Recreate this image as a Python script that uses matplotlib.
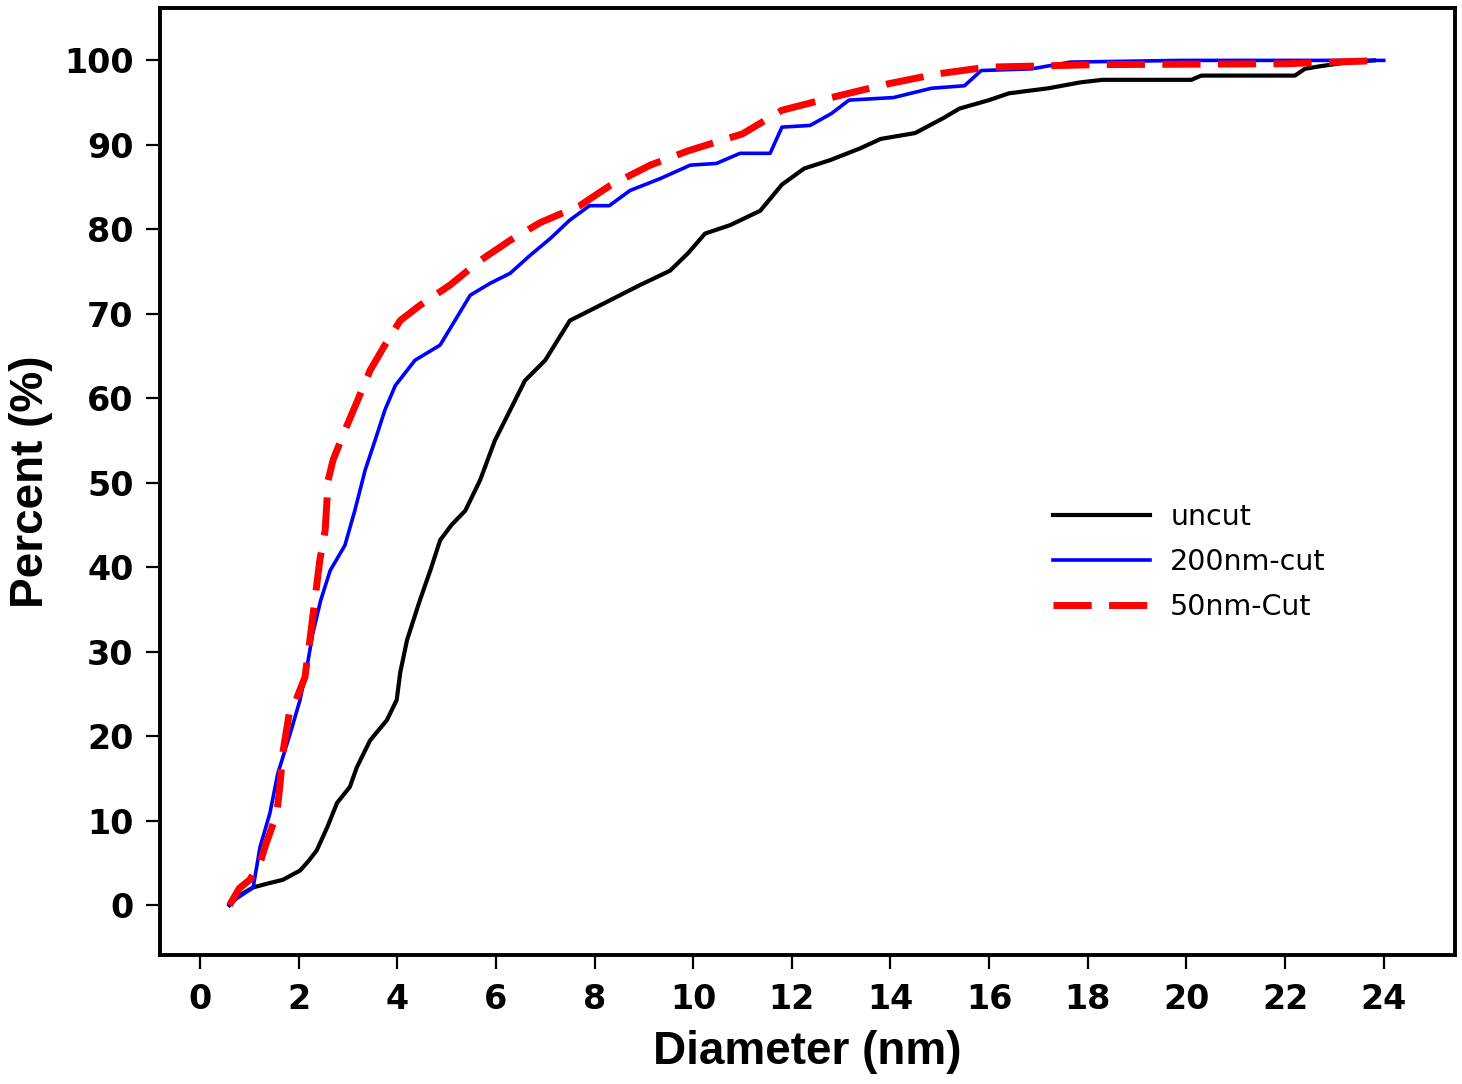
import matplotlib
matplotlib.use("Agg")
import matplotlib.pyplot as plt

# cumulative size distributions
uncut_d = [0.6, 0.75, 1.08, 1.4, 1.68, 2.03, 2.2, 2.37, 2.58, 2.78,
           3.04, 3.18, 3.45, 3.79, 3.99, 4.06, 4.2, 4.46, 4.67, 4.87,
           5.1, 5.38, 5.68, 5.98, 6.29, 6.59, 7.0, 7.5, 8.11, 8.92,
           9.53, 9.9, 10.24, 10.75, 11.36, 11.8, 12.25, 12.78, 13.39, 13.8,
           14.5, 15.05, 15.4, 16.0, 16.4, 17.2, 17.85, 18.3, 20.1, 20.3,
           22.2, 22.4, 22.7, 23.3, 23.8]
uncut_p = [0, 1.0, 2.1, 2.6, 3.0, 4.1, 5.2, 6.5, 9.2, 12.1,
           14.0, 16.3, 19.5, 21.9, 24.3, 27.5, 31.4, 36.1, 39.6, 43.2,
           45.0, 46.7, 50.3, 55.0, 58.6, 62.1, 64.5, 69.2, 71.0, 73.4,
           75.1, 77.2, 79.5, 80.5, 82.2, 85.3, 87.2, 88.2, 89.6, 90.7,
           91.4, 93.1, 94.3, 95.3, 96.1, 96.7, 97.4, 97.7, 97.7, 98.2,
           98.2, 99.0, 99.3, 99.8, 100]

cut200_d = [0.6, 0.75, 1.08, 1.22, 1.42, 1.58, 1.83, 2.03, 2.17, 2.29,
            2.45, 2.64, 2.94, 3.14, 3.35, 3.55, 3.75, 3.96, 4.36, 4.87,
            5.17, 5.48, 5.88, 6.29, 6.69, 7.1, 7.5, 7.9, 8.3, 8.72,
            9.33, 9.94, 10.47, 10.95, 11.56, 11.8, 12.37, 12.8, 13.16, 14.06,
            14.83, 15.5, 15.84, 16.86, 17.65, 19.9, 24.0]
cut200_p = [0, 0.8, 2.1, 6.9, 10.9, 15.6, 20.3, 24.3, 28.2, 32.2,
            36.1, 39.6, 42.6, 46.7, 51.5, 55.0, 58.6, 61.5, 64.5, 66.3,
            69.2, 72.2, 73.6, 74.8, 76.9, 78.9, 81.1, 82.8, 82.8, 84.6,
            86.0, 87.6, 87.8, 89.0, 89.0, 92.1, 92.3, 93.7, 95.3, 95.6,
            96.7, 97.0, 98.8, 99.0, 99.8, 100, 100]

cut50_d = [0.6, 0.8, 1.01, 1.22, 1.32, 1.56, 1.62, 1.68, 1.83, 1.95,
           2.13, 2.23, 2.33, 2.43, 2.54, 2.6, 2.7, 2.94, 3.2, 3.45,
           3.75, 4.06, 4.46, 5.07, 5.68, 6.29, 6.9, 7.7, 8.32, 9.13,
           9.9, 11.0, 11.8, 12.8, 13.93, 14.95, 15.96, 18.2, 22.0, 24.0]
cut50_p = [0, 2.0, 3.0, 5.0, 6.9, 10.9, 14.0, 18.0, 23.4, 24.3,
           27.0, 31.4, 36.1, 40.8, 44.4, 50.3, 52.7, 56.2, 59.8, 63.3,
           66.3, 69.2, 71.0, 73.4, 76.3, 78.7, 80.8, 82.8, 85.2, 87.6,
           89.3, 91.3, 94.1, 95.6, 97.2, 98.4, 99.2, 99.5, 99.6, 100]

x_ticks = list(range(0, 25, 2))
y_ticks = list(range(0, 101, 10))

fig = plt.figure(figsize=(14.62, 10.84), dpi=100)
ax = fig.add_axes([0.1094, 0.119, 0.886, 0.8736])

ax.plot(uncut_d, uncut_p, color="black", lw=3.0, label="uncut")
ax.plot(cut200_d, cut200_p, color="#0000ff", lw=2.6, label="200nm-cut")
ax.plot(cut50_d, cut50_p, color="#ff0000", lw=5.0, dashes=(5.5, 2.5),
        label="50nm-Cut")

ax.set_xlim(-0.81, 25.45)
ax.set_ylim(-5.9, 106.2)
ax.set_xticks(x_ticks)
ax.set_yticks(y_ticks)

for s in ax.spines.values():
    s.set_linewidth(2.8)

ax.tick_params(axis="both", direction="out", length=10, width=1.6)
ax.tick_params(axis="x", pad=10)
ax.tick_params(axis="y", pad=9)
for lab in ax.get_xticklabels() + ax.get_yticklabels():
    lab.set_fontsize(24)
    lab.set_fontweight("bold")
    lab.set_family("DejaVu Sans")

ax.set_xlabel("Diameter (nm)", fontsize=33, fontweight="bold",
              family="Liberation Sans", labelpad=10)
ax.set_ylabel("Percent (%)", fontsize=33, fontweight="bold",
              family="Liberation Sans", labelpad=8)

leg = ax.legend(loc="center left", bbox_to_anchor=(0.670, 0.415),
                frameon=False, fontsize=20.5, handlelength=3.4,
                handletextpad=0.7, labelspacing=0.6)

fig.savefig("out.png", dpi=100)
